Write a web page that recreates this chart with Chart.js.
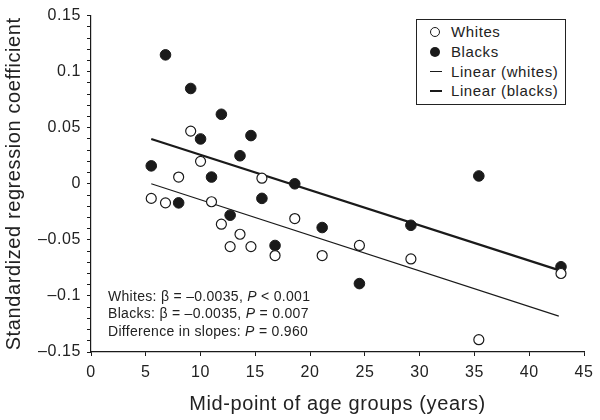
<!DOCTYPE html>
<html lang="en">
<head>
    <meta charset="UTF-8">
    <title>Standardized regression coefficient by age group</title>
    <script src="https://cdn.jsdelivr.net/npm/chart.js"></script>
    <style>
        body {
            margin: 0;
            background: #fff;
            font-family: 'Liberation Sans', Arial, sans-serif;
            color: #222;
        }
        .wrap {
            position: relative;
            width: 600px;
            height: 420px;
        }
        .legend {
            position: absolute;
            left: 416px;
            top: 19px;
            width: 148px;
            height: 84px;
            border: 1px solid #222;
            background: #fff;
            font-size: 15px;
            letter-spacing: 0.6px;
        }
        .legend .row {
            position: absolute;
            left: 0;
            height: 20px;
            line-height: 20px;
        }
        .legend .sym {
            position: absolute;
            left: 13px;
            top: 5px;
            width: 10px;
            height: 10px;
        }
        .legend .txt {
            position: absolute;
            left: 34px;
            white-space: nowrap;
        }
        .note {
            position: absolute;
            left: 108px;
            top: 288px;
            font-size: 14px;
            line-height: 17.4px;
            letter-spacing: 0.3px;
            white-space: nowrap;
        }
    </style>
</head>
<body>
<div class="wrap">
    <canvas id="grafico" width="600" height="420"></canvas>
    <div class="legend" id="legenda"></div>
    <div class="note" id="nota"></div>
</div>

<script>
    // idade média dos grupos (anos)
    const whitesX = [5.5, 6.8, 8.0, 9.1, 10.0, 11.0, 11.9, 12.7, 13.6, 14.6, 15.6, 16.8, 18.6, 21.1, 24.5, 29.2, 35.4, 42.9];
    const whitesY = [-0.013, -0.017, 0.006, 0.047, 0.020, -0.016, -0.036, -0.056, -0.045, -0.056, 0.005, -0.064, -0.031, -0.064, -0.055, -0.067, -0.139, -0.080];

    const blacksX = [5.5, 6.8, 8.0, 9.1, 10.0, 11.0, 11.9, 12.7, 13.6, 14.6, 15.6, 16.8, 18.6, 21.1, 24.5, 29.2, 35.4, 42.9];
    const blacksY = [0.016, 0.115, -0.017, 0.085, 0.040, 0.006, 0.062, -0.028, 0.025, 0.043, -0.013, -0.055, 0.000, -0.039, -0.089, -0.037, 0.007, -0.074];

    // retas ajustadas (extremos)
    const fitX = [5.5, 42.7];
    const whitesFitY = [0.000, -0.118];
    const blacksFitY = [0.040, -0.077];

    const legendLabels = ['Whites', 'Blacks', 'Linear (whites)', 'Linear (blacks)'];
    const noteLines = [
        'Whites: β = –0.0035, <i>P</i> &lt; 0.001',
        'Blacks: β = –0.0035, <i>P</i> = 0.007',
        'Difference in slopes: <i>P</i> = 0.960'
    ];

    const pts = (xs, ys) => xs.map((x, i) => ({ x: x, y: ys[i] }));
    const fmt = v => {
        if (Math.abs(v) < 1e-9) return '0';
        const s = String(Math.abs(Math.round(v * 100) / 100));
        return v < 0 ? '\u2013' + s : s;
    };

    const ink = '#1a1a1a';
    const fonte = "'Liberation Sans', Arial, sans-serif";

    // texto do canvas um pouco mais espaçado, como no original
    const espacamento = {
        id: 'espacamento',
        beforeDraw: chart => { chart.ctx.letterSpacing = '0.6px'; }
    };

    new Chart(document.getElementById('grafico'), {
        type: 'scatter',
        data: {
            datasets: [
                {
                    label: 'Whites',
                    data: pts(whitesX, whitesY),
                    pointRadius: 5,
                    pointBackgroundColor: '#fff',
                    pointBorderColor: ink,
                    pointBorderWidth: 1.2,
                    order: 0
                },
                {
                    label: 'Blacks',
                    data: pts(blacksX, blacksY),
                    pointRadius: 5.3,
                    pointBackgroundColor: ink,
                    pointBorderColor: ink,
                    pointBorderWidth: 1,
                    order: 1
                },
                {
                    label: 'Linear (whites)',
                    type: 'line',
                    data: pts(fitX, whitesFitY),
                    borderColor: ink,
                    borderWidth: 1.1,
                    pointRadius: 0,
                    order: 2
                },
                {
                    label: 'Linear (blacks)',
                    type: 'line',
                    data: pts(fitX, blacksFitY),
                    borderColor: ink,
                    borderWidth: 2.2,
                    pointRadius: 0,
                    order: 3
                }
            ]
        },
        options: {
            responsive: false,
            animation: false,
            layout: {
                padding: { top: 14, right: 16, left: 0, bottom: 0 }
            },
            plugins: {
                legend: { display: false },
                tooltip: { enabled: false }
            },
            scales: {
                x: {
                    type: 'linear',
                    min: 0,
                    max: 45,
                    ticks: {
                        stepSize: 5,
                        color: '#222',
                        font: { family: fonte, size: 16 },
                        padding: 7
                    },
                    grid: {
                        drawOnChartArea: false,
                        drawTicks: true,
                        tickLength: 4,
                        tickColor: ink
                    },
                    border: { color: ink, width: 1.2 },
                    title: {
                        display: true,
                        text: 'Mid-point of age groups (years)',
                        color: '#222',
                        font: { family: fonte, size: 20 },
                        padding: { top: 2 }
                    },
                    afterFit: s => { s.height = 68; }
                },
                y: {
                    min: -0.15,
                    max: 0.15,
                    ticks: {
                        stepSize: 0.01,
                        autoSkip: false,
                        color: '#222',
                        font: { family: fonte, size: 16 },
                        padding: 6,
                        callback: v => {
                            const k = v * 20;
                            return Math.abs(k - Math.round(k)) < 1e-6 ? fmt(v) : '';
                        }
                    },
                    grid: {
                        drawOnChartArea: false,
                        drawTicks: true,
                        tickLength: 4,
                        tickColor: ink
                    },
                    border: { color: ink, width: 1.2 },
                    title: {
                        display: true,
                        text: 'Standardized regression coefficient',
                        color: '#222',
                        font: { family: fonte, size: 20 },
                        padding: { top: 2, bottom: 0 }
                    },
                    afterFit: s => { s.width = 91; }
                }
            }
        },
        plugins: [espacamento]
    });

    // legenda em caixa dentro da área do gráfico
    const legenda = document.getElementById('legenda');
    legendLabels.forEach((txt, i) => {
        const row = document.createElement('div');
        row.className = 'row';
        row.style.top = (2 + i * 19.8) + 'px';
        row.style.width = '100%';
        let sym = '';
        if (i === 0) sym = '<div class="sym" style="border:1.2px solid #1a1a1a;border-radius:50%;box-sizing:border-box;"></div>';
        if (i === 1) sym = '<div class="sym" style="background:#1a1a1a;border-radius:50%;"></div>';
        if (i === 2) sym = '<div class="sym" style="top:9px;left:13px;width:12px;height:1px;background:#1a1a1a;"></div>';
        if (i === 3) sym = '<div class="sym" style="top:9px;left:13px;width:12px;height:2px;background:#1a1a1a;"></div>';
        row.innerHTML = sym + '<span class="txt">' + txt + '</span>';
        legenda.appendChild(row);
    });

    document.getElementById('nota').innerHTML = noteLines.join('<br>');
</script>
</body>
</html>
